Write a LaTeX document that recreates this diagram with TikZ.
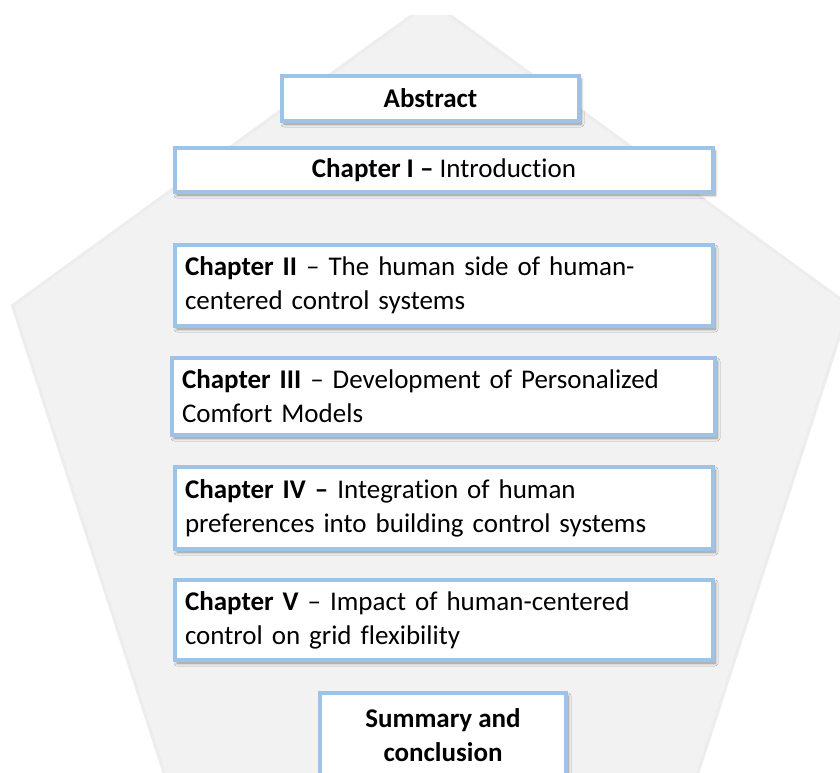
\documentclass[tikz,border=0pt]{standalone}
\usepackage{fontspec}
\setmainfont{Carlito}[Ligatures=NoCommon]
\usetikzlibrary{shadows.blur}
\definecolor{boxline}{HTML}{9DC3E6}
\definecolor{pentafill}{HTML}{F2F2F2}
\definecolor{pentaedge}{HTML}{EDEDED}
\tikzset{
  chapbox/.style={draw=boxline, line width=4pt, fill=white, align=left,
    inner xsep=10pt, inner ysep=0pt,
    font=\fontsize{27}{34}\selectfont,
    blur shadow={shadow xshift=2pt, shadow yshift=-3pt, shadow blur radius=3pt,
      shadow blur steps=6, shadow opacity=45}},
  titlebox/.style={chapbox, align=center}
}
\begin{document}
\begin{tikzpicture}[x=1pt, y=-1pt]
  \useasboundingbox (0,0) rectangle (840,773);
  \begin{scope}
    \clip (0,16) rectangle (840,773);
    % background pentagon
    \fill[pentafill, draw=pentaedge, line width=3pt]
      (431,1.5) -- (849.5,305.5) -- (690,797.5) -- (172,797.5) -- (12.5,305.5) -- cycle;
  \end{scope}
  \begin{scope}
    \clip (0,0) rectangle (840,773);
    \node[titlebox, minimum width=297pt, minimum height=45pt] (abs) at (430.5,98.5)
      {\textbf{Abstract}};
    \node[titlebox, minimum width=538pt, minimum height=44pt] (ch1) at (444,170)
      {\textbf{Chapter I –} Introduction};
    \node[chapbox, minimum width=538pt, minimum height=81pt, text width=518pt] (ch2) at (444,285.5)
      {\textbf{Chapter II} – The human side of human-\\centered control systems};
    \node[chapbox, minimum width=543pt, minimum height=77pt, text width=523pt] (ch3) at (443.5,396.5)
      {\textbf{Chapter III} – Development of Personalized\\Comfort Models};
    \node[chapbox, minimum width=538pt, minimum height=82pt, text width=518pt] (ch4) at (444,508)
      {\textbf{Chapter IV –} Integration of human\\preferences into building control systems};
    \node[chapbox, minimum width=538pt, minimum height=80pt, text width=518pt] (ch5) at (444,620)
      {\textbf{Chapter V} – Impact of human-centered\\control on grid flexibility};
    \node[titlebox, minimum width=246pt, minimum height=84pt] (sum) at (443,735)
      {\textbf{Summary and}\\\textbf{conclusion}};
  \end{scope}
\end{tikzpicture}
\end{document}
